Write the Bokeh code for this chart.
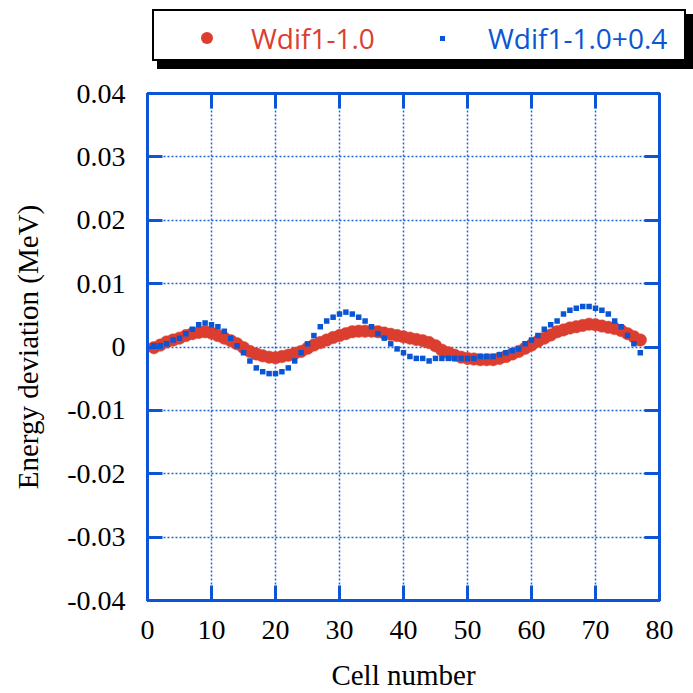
from bokeh.plotting import figure
from bokeh.models import Range1d, FixedTicker, LinearAxis, CustomJSTickFormatter, Div
from bokeh.layouts import column
from bokeh.embed import file_html
from bokeh.resources import INLINE

cells = list(range(1, 78))
wdif_red = [
    -0.0001, 0.0003, 0.0008, 0.0011, 0.0014, 0.0018, 0.0021, 0.0023, 0.0024, 0.0022,
    0.0018, 0.0014, 0.0010, 0.0005, -0.0001, -0.0007, -0.0011, -0.0014, -0.0016, -0.0017,
    -0.0015, -0.0013, -0.0010, -0.0007, -0.0002, 0.0003, 0.0007, 0.0011, 0.0015, 0.0018,
    0.0021, 0.0024, 0.0025, 0.0025, 0.0025, 0.0024, 0.0022, 0.0020, 0.0018, 0.0016,
    0.0014, 0.0012, 0.0010, 0.0007, 0.0002, -0.0005, -0.0009, -0.0013, -0.0016, -0.0018,
    -0.0019, -0.0020, -0.0020, -0.0020, -0.0018, -0.0015, -0.0011, -0.0007, -0.0002, 0.0003,
    0.0009, 0.0014, 0.0019, 0.0024, 0.0027, 0.0030, 0.0032, 0.0034, 0.0036, 0.0035,
    0.0033, 0.0031, 0.0029, 0.0026, 0.0021, 0.0016, 0.0011,
]
wdif_blue = [
    0.0002, 0.0002, 0.0005, 0.0011, 0.0014, 0.0021, 0.0028, 0.0035, 0.0038, 0.0035,
    0.0032, 0.0025, 0.0014, 0.0002, -0.0009, -0.0022, -0.0033, -0.0039, -0.0042, -0.0042,
    -0.0039, -0.0033, -0.0022, -0.0009, 0.0005, 0.0018, 0.0032, 0.0041, 0.0047, 0.0052,
    0.0055, 0.0052, 0.0047, 0.0041, 0.0032, 0.0021, 0.0014, 0.0005, -0.0003, -0.0009,
    -0.0015, -0.0018, -0.0018, -0.0022, -0.0018, -0.0018, -0.0018, -0.0018, -0.0018, -0.0018,
    -0.0018, -0.0015, -0.0015, -0.0015, -0.0012, -0.0009, -0.0006, -0.0003, 0.0005, 0.0011,
    0.0018, 0.0028, 0.0035, 0.0041, 0.0052, 0.0058, 0.0061, 0.0064, 0.0064, 0.0061,
    0.0058, 0.0052, 0.0041, 0.0032, 0.0018, 0.0005, -0.0009,
]
x_ticks = [0, 10, 20, 30, 40, 50, 60, 70, 80]
y_ticks = [-0.04, -0.03, -0.02, -0.01, 0, 0.01, 0.02, 0.03, 0.04]
y_tick_labels = ["-0.04", "-0.03", "-0.02", "-0.01", "0", "0.01", "0.02", "0.03", "0.04"]
series_names = ["Wdif1-1.0", "Wdif1-1.0+0.4"]

RED = "#db3e2f"
BLUE = "#0a55d4"
AX = "#0b55d6"
SERIF = "Liberation Serif"

# ---------------- legend strip (HTML) ----------------
LEG_H = 72
abs_ = "position:absolute;"
leg_html = (
    f'<div style="position:relative;width:693px;height:{LEG_H}px;overflow:hidden;">'
    f'<div style="{abs_}left:157px;top:14px;width:540px;height:55px;background:#000;"></div>'
    f'<div style="{abs_}left:152px;top:9px;width:534px;height:52px;background:#fff;'
    f'border:2px solid #000;"></div>'
    f'<div style="{abs_}left:201px;top:32px;width:12px;height:12px;border-radius:50%;'
    f'background:{RED};"></div>'
    f'<div style="{abs_}left:440px;top:36px;width:5px;height:5px;background:{BLUE};"></div>'
    f'<span style="{abs_}left:251px;top:38px;transform:translateY(-50%);'
    f"font-family:'Open Sans';font-size:28px;line-height:1;white-space:nowrap;"
    f'color:{RED};">{series_names[0]}</span>'
    f'<span style="{abs_}left:488px;top:38px;transform:translateY(-50%);'
    f"font-family:'Open Sans';font-size:28px;line-height:1;white-space:nowrap;"
    f'color:{BLUE};">{series_names[1]}</span>'
    '</div>'
)
leg = Div(text=leg_html, width=693, height=LEG_H, margin=(0, 0, 0, 0))

# ---------------- main plot ----------------
p = figure(width=693, height=693 - LEG_H, output_backend="svg", toolbar_location=None,
           x_range=Range1d(0, 80), y_range=Range1d(-0.04, 0.04),
           min_border_left=147, min_border_right=34, min_border_top=93 - LEG_H,
           min_border_bottom=89, x_axis_label="Cell number",
           y_axis_label="Energy deviation (MeV)", margin=(0, 0, 0, 0))
p.background_fill_color = "white"
p.border_fill_color = "white"
p.outline_line_color = AX
p.outline_line_width = 3

r_red = p.scatter(cells, wdif_red, marker="circle", size=12.5, fill_color=RED,
                  line_color=RED, line_width=0.5)
r_blue = p.scatter(cells, wdif_blue, marker="square", size=5.5, fill_color=BLUE,
                   line_color=BLUE, line_width=0)

overrides = {t: l for t, l in zip(y_ticks, y_tick_labels)}
blank = CustomJSTickFormatter(code="return '';")


def style_axis(ax):
    ax.axis_line_color = AX
    ax.axis_line_width = 3
    ax.major_tick_line_color = AX
    ax.major_tick_line_width = 3
    ax.major_tick_in = 15
    ax.major_tick_out = 0
    ax.minor_tick_line_color = None
    ax.major_label_text_font = SERIF
    ax.major_label_text_font_size = "28px"
    ax.major_label_text_color = "black"
    ax.axis_label_text_font = SERIF
    ax.axis_label_text_font_size = "29px"
    ax.axis_label_text_font_style = "normal"
    ax.axis_label_text_color = "black"


for ax in p.xaxis:
    ax.ticker = FixedTicker(ticks=x_ticks, minor_ticks=[])
    style_axis(ax)
    ax.major_label_standoff = 20
    ax.axis_label_standoff = 17
for ax in p.yaxis:
    ax.ticker = FixedTicker(ticks=y_ticks, minor_ticks=[])
    ax.major_label_overrides = overrides
    style_axis(ax)
    ax.major_label_standoff = 22
    ax.axis_label_standoff = 20

ax_r = LinearAxis(ticker=FixedTicker(ticks=y_ticks, minor_ticks=[]), formatter=blank)
style_axis(ax_r)
ax_r.major_label_standoff = 0
p.add_layout(ax_r, "right")
ax_t = LinearAxis(ticker=FixedTicker(ticks=x_ticks, minor_ticks=[]), formatter=blank)
style_axis(ax_t)
ax_t.major_label_standoff = 0
p.add_layout(ax_t, "above")

for g in p.xgrid:
    g.ticker = FixedTicker(ticks=x_ticks, minor_ticks=[])
for g in p.ygrid:
    g.ticker = FixedTicker(ticks=y_ticks, minor_ticks=[])
for g in list(p.xgrid) + list(p.ygrid):
    g.grid_line_color = BLUE
    g.grid_line_width = 1.5
    g.grid_line_dash = "2 2"
    g.grid_line_alpha = 0.9

layout = column(leg, p, spacing=0)
open("out.html", "w").write(file_html(layout, INLINE))
